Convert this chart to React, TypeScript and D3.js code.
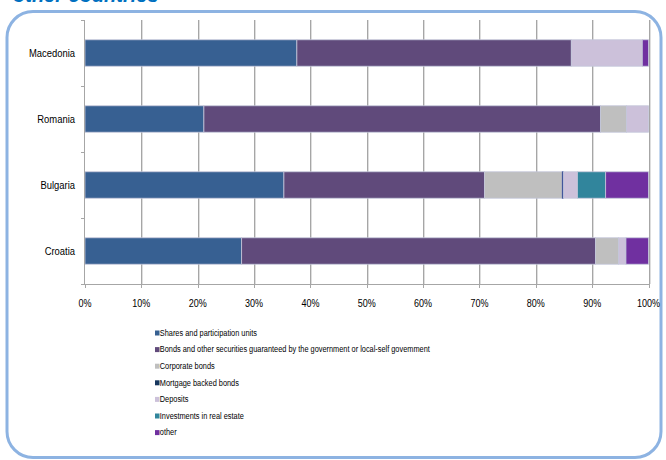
import React from "react";
import * as d3 from "d3";

const countries = ["Macedonia", "Romania", "Bulgaria", "Croatia"];
const seriesNames = [
  "Shares and participation units",
  "Bonds and other securities guaranteed by the government or local-self govemment",
  "Corporate bonds",
  "Mortgage backed bonds",
  "Deposits",
  "Investments in real estate",
  "other",
];
const seriesColors = ["#376092", "#604a7b", "#bfbfbf", "#17375e", "#ccc1da", "#31859c", "#7030a0"];
// values per series, in the order of countries (percent)
const shares = [37.6, 21.1, 35.3, 27.8];
const bonds = [48.7, 70.4, 35.6, 62.8];
const corporate = [0, 4.6, 13.8, 4.1];
const mortgage = [0, 0, 0.2, 0];
const deposits = [12.6, 3.9, 2.5, 1.3];
const realEstate = [0, 0, 5.0, 0];
const other = [1.1, 0, 7.6, 4.0];
const seriesValues = [shares, bonds, corporate, mortgage, deposits, realEstate, other];
const xTicks = [0, 0.1, 0.2, 0.3, 0.4, 0.5, 0.6, 0.7, 0.8, 0.9, 1];

const W = 666;
const H = 460;
const FONT = "'Liberation Sans', Arial, sans-serif";
const NARROW = 0.82;

export default function App() {
  const x0 = 85;
  const x1 = 648.5;
  const yTop = 20;
  const yBot = 284;
  const x = d3.scaleLinear().domain([0, 1]).range([x0, x1]);
  const y = d3.scaleBand<string>().domain(countries).range([yTop, yBot]).paddingInner(0.6).paddingOuter(0.3);

  const rows = countries.map((c, i) => {
    const obj: any = { country: c };
    seriesNames.forEach((s, j) => (obj[s] = seriesValues[j][i]));
    return obj;
  });
  const stack = d3.stack<any>().keys(seriesNames).offset(d3.stackOffsetExpand);
  const stacked = stack(rows);

  const bandStep = (yBot - yTop) / countries.length;
  const legendY0 = 333;
  const legendStep = 16.6;

  return (
    <svg
      width={W}
      height={H}
      style={{ position: "fixed", left: 0, top: 0, background: "#fff", display: "block" }}
    >
      {/* title (cut off at top) */}
      <text x={13} y={2} fill="#0070c0" fontFamily={FONT} fontWeight="bold" fontStyle="italic" fontSize={20}>
        other countries
      </text>
      {/* frame */}
      <rect x={7} y={11.5} width={654} height={446} rx={26} ry={26} fill="none" stroke="#8db3e2" strokeWidth={3} />

      {/* gridlines */}
      {xTicks.slice(1).map((t) => (
        <g key={"g" + t}>
          <line x1={Math.round(x(t)) + 1.5} x2={Math.round(x(t)) + 1.5} y1={yTop} y2={yBot} stroke="#dedede" strokeWidth={1} />
          <line x1={Math.round(x(t)) + 0.5} x2={Math.round(x(t)) + 0.5} y1={yTop} y2={yBot} stroke="#a6a6a6" strokeWidth={1} />
        </g>
      ))}

      {/* bars */}
      {stacked.map((layer, j) => (
        <g key={layer.key} fill={seriesColors[j]}>
          {layer.map((d, i) =>
            d[1] - d[0] > 0 ? (
              <rect
                key={i}
                x={x(d[0])}
                y={y(countries[i])!}
                width={x(d[1]) - x(d[0])}
                height={y.bandwidth()}
                stroke={j === 3 ? "#3f51a8" : "#c3c6da"}
                strokeWidth={0.8}
              />
            ) : null
          )}
        </g>
      ))}

      {/* y axis */}
      <line x1={x0 - 0.5} x2={x0 - 0.5} y1={yTop} y2={yBot} stroke="#a6a6a6" />
      {d3.range(countries.length + 1).map((k) => (
        <line key={"yt" + k} x1={x0 - 4} x2={x0} y1={yTop + k * bandStep + 0.5} y2={yTop + k * bandStep + 0.5} stroke="#a6a6a6" />
      ))}
      {countries.map((c) => (
        <text
          key={c}
          transform={`translate(75, ${y(c)! + y.bandwidth() / 2}) scale(${NARROW}, 1)`}
          textAnchor="end"
          dominantBaseline="central"
          fontFamily={FONT}
          fontSize={11.5}
          fill="#000"
        >
          {c}
        </text>
      ))}

      {/* x axis */}
      <line x1={x0} x2={x1 + 1} y1={yBot + 0.5} y2={yBot + 0.5} stroke="#a6a6a6" strokeWidth={1.2} />
      {xTicks.map((t) => (
        <g key={"xt" + t}>
          <line x1={Math.round(x(t)) + 0.5} x2={Math.round(x(t)) + 0.5} y1={yBot} y2={yBot + 4} stroke="#a6a6a6" />
          <text
            transform={`translate(${x(t)}, 303) scale(${NARROW}, 1)`}
            textAnchor="middle"
            dominantBaseline="central"
            fontFamily={FONT}
            fontSize={11}
            fill="#000"
          >
            {d3.format(".0%")(t)}
          </text>
        </g>
      ))}

      {/* legend */}
      {seriesNames.map((s, j) => (
        <g key={"l" + j} transform={`translate(155, ${legendY0 + j * legendStep})`}>
          <rect x={0} y={-2.5} width={4.5} height={5} fill={seriesColors[j]} />
          <text
            transform={`translate(4.8, 0) scale(${NARROW}, 1)`}
            dominantBaseline="central"
            fontFamily={FONT}
            fontSize={9}
            fill="#000"
          >
            {s}
          </text>
        </g>
      ))}
    </svg>
  );
}
